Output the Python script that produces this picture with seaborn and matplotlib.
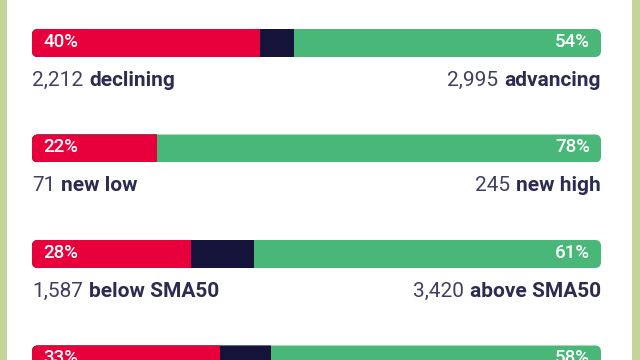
import matplotlib
matplotlib.use("Agg")
import matplotlib.pyplot as plt
import seaborn as sns
import pandas as pd
from matplotlib.patches import FancyBboxPatch, Rectangle

# ---- data ----
rows = ["advancers", "highs", "sma50", "sma200"]
neg_pct = [40, 22, 28, 33]
neutral_pct = [6, 0, 11, 9]
pos_pct = [54, 78, 61, 58]
neg_counts = ["2,212", "71", "1,587"]
neg_words = ["declining", "new low", "below SMA50"]
pos_counts = ["2,995", "245", "3,420"]
pos_words = ["advancing", "new high", "above SMA50"]

RED = "#e8003d"
NAVY = "#15133a"
GREEN = "#48b778"
TEXT = "#2c2b52"
BG = "#c3d598"

sns.set_theme(style="white")
plt.rcParams["font.family"] = ["Roboto", "DejaVu Sans"]

W, H = 640, 360
fig = plt.figure(figsize=(W / 100, H / 100), dpi=100, facecolor=BG)
# white card
fig.add_artist(Rectangle((7 / W, 0), (632 - 7) / W, 1, transform=fig.transFigure,
                         facecolor="white", edgecolor="none", zorder=0))

ax = fig.add_axes([32 / W, 0, 569 / W, 1])
ax.set_facecolor("none")

df = pd.DataFrame({
    "row": rows,
    "total": [n + z + p for n, z, p in zip(neg_pct, neutral_pct, pos_pct)],
    "negneu": [n + z for n, z in zip(neg_pct, neutral_pct)],
    "neg": neg_pct,
})

spacing = 105.5  # px between rows
bar_h = 28 / spacing
sns.barplot(data=df, y="row", x="total", color=GREEN, saturation=1, width=bar_h,
            orient="h", ax=ax, linewidth=0)
sns.barplot(data=df, y="row", x="negneu", color=NAVY, saturation=1, width=bar_h,
            orient="h", ax=ax, linewidth=0)
sns.barplot(data=df, y="row", x="neg", color=RED, saturation=1, width=bar_h,
            orient="h", ax=ax, linewidth=0)

top = -43 / spacing
ax.set_ylim(top + H / spacing, top)
ax.set_xlim(0, 100)
ax.axis("off")

# rounded clipping per row
xpx = 569 / 100.0
aspect = xpx / spacing
r = 6 / xpx
clips = []
for i in range(len(rows)):
    cp = FancyBboxPatch((0, i - bar_h / 2), 100, bar_h,
                        boxstyle=f"round,pad=0,rounding_size={r}",
                        mutation_aspect=aspect, transform=ax.transData,
                        facecolor="none", edgecolor="none")
    ax.add_patch(cp)
    clips.append(cp)
for p in ax.patches:
    if isinstance(p, FancyBboxPatch):
        continue
    yc = p.get_y() + p.get_height() / 2
    idx = int(round(yc))
    p.set_clip_path(clips[idx])

# percentage labels
for i, (n, p) in enumerate(zip(neg_pct, pos_pct)):
    ax.annotate(f"{n}%", xy=(0, i), xytext=(11, 1), textcoords="offset pixels",
                ha="left", va="center", color="white", fontsize=13.5,
                fontweight="medium")
    ax.annotate(f"{p}%", xy=(100, i), xytext=(-11, 1), textcoords="offset pixels",
                ha="right", va="center", color="white", fontsize=13.5,
                fontweight="medium")

# count labels
fs = 15
off = 43 / spacing
for i in range(len(neg_counts)):
    t = ax.text(0, i + off, neg_counts[i], ha="left", va="baseline",
                color=TEXT, fontsize=fs, alpha=0.9)
    ax.annotate(neg_words[i], xy=(1, 0), xycoords=t, xytext=(6, 0),
                textcoords="offset pixels", ha="left", va="bottom",
                color=TEXT, fontsize=fs, fontweight="bold")
    w = ax.text(100, i + off, pos_words[i], ha="right", va="baseline",
                color=TEXT, fontsize=fs, fontweight="bold")
    ax.annotate(pos_counts[i], xy=(0, 0), xycoords=w, xytext=(-6, 0),
                textcoords="offset pixels", ha="right", va="bottom",
                color=TEXT, fontsize=fs, alpha=0.9)

fig.savefig("out.png", dpi=100, facecolor=BG)
